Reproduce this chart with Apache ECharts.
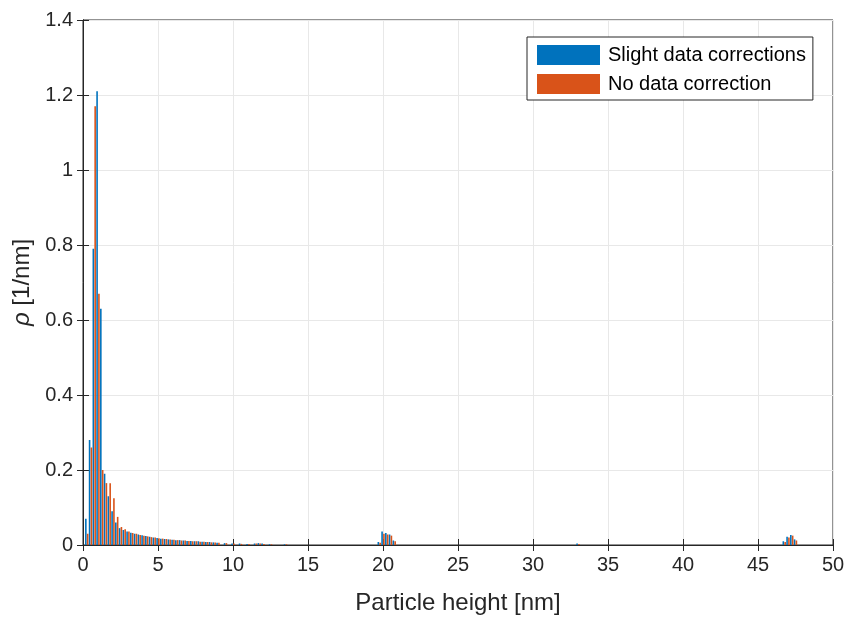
<!DOCTYPE html>
<html>
<head>
<meta charset="utf-8">
<script src="https://cdn.jsdelivr.net/npm/echarts@6/dist/echarts.min.js"></script>
<style>
html,body{margin:0;padding:0;background:#fff;}
#c{width:849px;height:617px;}
</style>
</head>
<body>
<div id="c"></div>
<script>
// bin centres [nm]
const binCenters = [0.25,0.5,0.75,1.0,1.25,1.5,1.75,2.0,2.25,2.5,2.75,3.0,3.25,3.5,3.75,4.0,4.25,4.5,4.75,5.0,5.25,5.5,5.75,6.0,6.25,6.5,6.75,7.0,7.25,7.5,7.75,8.0,8.25,8.5,8.75,9.0,9.5,10.0,10.5,11.0,11.5,11.75,12.0,12.5,13.5,19.75,20.0,20.25,20.5,20.75,33.0,46.75,47.0,47.25,47.5];
// Slight data corrections
const slightVals = [0.07,0.28,0.79,1.21,0.63,0.19,0.13,0.09,0.06,0.045,0.04,0.036,0.033,0.03,0.028,0.026,0.024,0.022,0.02,0.019,0.017,0.016,0.015,0.014,0.013,0.013,0.012,0.011,0.011,0.01,0.01,0.009,0.008,0.008,0.007,0.006,0.005,0.004,0.004,0.003,0.004,0.005,0.004,0.002,0.002,0.008,0.036,0.032,0.028,0.012,0.004,0.01,0.022,0.027,0.015];
// No data correction
const noCorrVals = [0.03,0.26,1.17,0.67,0.2,0.165,0.165,0.125,0.075,0.048,0.042,0.036,0.032,0.03,0.027,0.025,0.023,0.021,0.02,0.018,0.017,0.016,0.015,0.014,0.013,0.012,0.012,0.011,0.01,0.01,0.009,0.009,0.008,0.007,0.007,0.006,0.005,0.004,0.003,0.003,0.004,0.004,0.003,0.002,0.002,0.006,0.03,0.028,0.025,0.01,0.003,0.008,0.02,0.025,0.012];
const xTicks = [0,5,10,15,20,25,30,35,40,45,50];
const yTicks = [0,0.2,0.4,0.6,0.8,1,1.2,1.4];
const seriesNames = ['Slight data corrections','No data correction'];

const AX = '#262626';
const FONT = '"Liberation Sans", Arial, Helvetica, sans-serif';
const chart = echarts.init(document.getElementById('c'), null, {renderer:'canvas'});
const pair = (vals) => binCenters.map((x,i)=>[x, vals[i]]);

chart.setOption({
  animation:false,
  backgroundColor:'#fff',
  textStyle:{fontFamily:FONT},
  grid:{left:83, top:20, width:750, height:525, outerBoundsMode:'none', containLabel:false,
        show:true, borderColor:AX, borderWidth:1, backgroundColor:'transparent'},
  legend:{
    left:527, top:37, orient:'vertical', itemGap:9,
    itemWidth:63, itemHeight:20, padding:[8,7,6,10],
    borderColor:AX, borderWidth:1, borderRadius:0, backgroundColor:'#fff',
    textStyle:{fontFamily:FONT, fontSize:20, color:'#000', padding:[0,0,0,3]},
    icon:'rect', data:seriesNames
  },
  xAxis:[{
    type:'value', min:xTicks[0], max:xTicks[xTicks.length-1], interval:5,
    name:'Particle height [nm]', nameLocation:'middle', nameGap:46,
    nameTextStyle:{fontFamily:FONT, fontSize:24, color:AX},
    axisLine:{show:true, lineStyle:{color:AX, width:1}},
    axisTick:{show:true, inside:true, length:6, lineStyle:{color:AX}},
    axisLabel:{fontFamily:FONT, fontSize:20, color:AX, margin:10},
    splitLine:{show:true, lineStyle:{color:'#e8e8e8', width:1}}
  },{
    type:'value', position:'top', min:0, max:50, interval:5,
    axisLine:{show:true, lineStyle:{color:AX}},
    axisTick:{show:true, inside:true, length:6, lineStyle:{color:AX}},
    axisLabel:{show:false}, splitLine:{show:false}
  }],
  yAxis:[{
    type:'value', min:yTicks[0], max:yTicks[yTicks.length-1], interval:0.2,
    name:'{i|ρ} [1/nm]', nameLocation:'middle', nameGap:42, nameRotate:90,
    nameTextStyle:{fontFamily:FONT, fontSize:24, color:AX, rich:{i:{fontStyle:'italic', fontFamily:FONT, fontSize:24, color:AX}}},
    axisLine:{show:true, lineStyle:{color:AX}},
    axisTick:{show:true, inside:true, length:6, lineStyle:{color:AX}},
    axisLabel:{fontFamily:FONT, fontSize:20, color:AX, margin:10},
    splitLine:{show:true, lineStyle:{color:'#e8e8e8', width:1}}
  },{
    type:'value', position:'right', min:0, max:1.4, interval:0.2,
    axisLine:{show:true, lineStyle:{color:AX}},
    axisTick:{show:true, inside:true, length:6, lineStyle:{color:AX}},
    axisLabel:{show:false}, splitLine:{show:false}
  }],
  series:[{
    name:seriesNames[0], type:'bar', xAxisIndex:0, yAxisIndex:0,
    barWidth:1.6, barGap:'15%',
    itemStyle:{color:'#0072BD'}, data:pair(slightVals)
  },{
    name:seriesNames[1], type:'bar', xAxisIndex:0, yAxisIndex:0,
    barWidth:1.6, barGap:'15%',
    itemStyle:{color:'#D95319'}, data:pair(noCorrVals)
  }]
});
</script>
</body>
</html>
